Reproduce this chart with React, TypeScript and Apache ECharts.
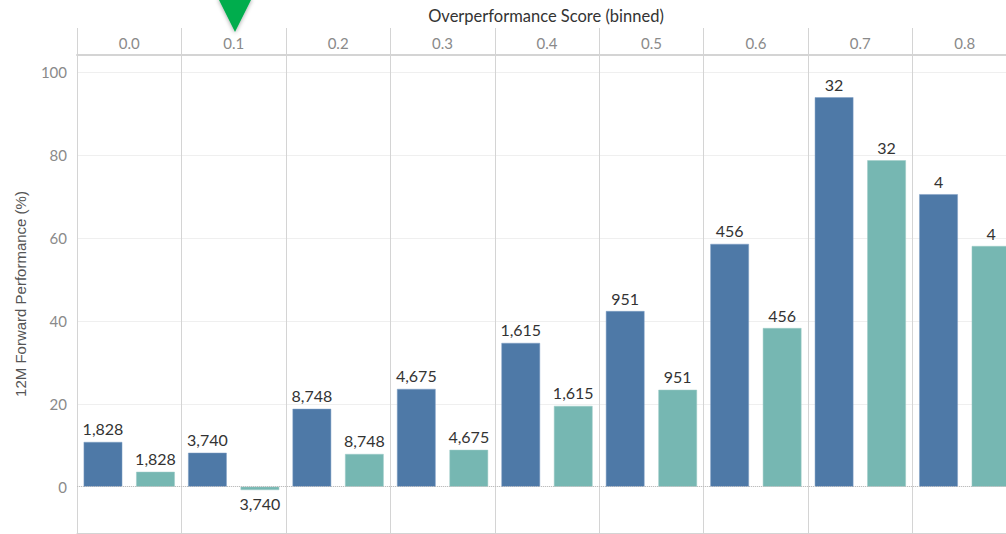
import React, { useEffect, useRef } from "react";
import * as echarts from "echarts";

const categories = ["0.0", "0.1", "0.2", "0.3", "0.4", "0.5", "0.6", "0.7", "0.8"];
const blueValues = [10.8, 8.2, 18.8, 23.6, 34.7, 42.4, 58.6, 94.0, 70.6];
const tealValues = [3.6, -0.8, 7.9, 8.9, 19.5, 23.4, 38.3, 78.8, 58.1];
const counts = [1828, 3740, 8748, 4675, 1615, 951, 456, 32, 4];
const yTicks = [0, 20, 40, 60, 80, 100];

const FONT = "Lato, sans-serif";

export default function App() {
  const ref = useRef<HTMLDivElement>(null);
  useEffect(() => {
    if (!ref.current) return;
    const chart = echarts.init(ref.current, undefined, { renderer: "svg" });
    const fmtCount = (p: any) => counts[p.dataIndex].toLocaleString("en-US");
    const mk = (vals: number[]) =>
      vals.map((v) => ({
        value: v,
        label: { position: v < 0 ? "bottom" : "top" },
      }));
    chart.setOption({
      animation: false,
      textStyle: { fontFamily: FONT },
      title: {
        text: "Overperformance Score (binned)",
        left: 546,
        top: 7,
        padding: 0,
        textAlign: "center",
        textStyle: { fontSize: 16.5, color: "#333", fontWeight: "normal", fontFamily: FONT },
      },
      graphic: [
        {
          type: "polygon",
          shape: { points: [[218, -2], [252, -2], [235, 32]] },
          style: {
            fill: "#00ad4e",
            shadowBlur: 4,
            shadowColor: "rgba(0,0,0,0.35)",
            shadowOffsetY: 1,
          },
          z: 100,
        },
      ],
      grid: [
        { left: 77, top: 55, width: 940, height: 478 },
        { left: 77, top: 28, width: 940, height: 27 },
      ],
      xAxis: [
        {
          gridIndex: 0,
          type: "category",
          data: categories,
          position: "bottom",
          axisLine: { show: true, onZero: false, lineStyle: { color: "#d4d4d4", width: 1 } },
          axisTick: { show: false },
          axisLabel: { show: false },
          splitLine: { show: true, interval: 0, lineStyle: { color: "#d4d4d4", width: 1 } },
        },
        {
          gridIndex: 1,
          type: "category",
          data: categories,
          position: "bottom",
          axisLine: { show: true, lineStyle: { color: "#d4d4d4", width: 2 } },
          axisTick: { show: false },
          axisLabel: { inside: true, color: "#8a8a8a", fontSize: 15, margin: 5, interval: 0 },
          splitLine: { show: true, interval: 0, lineStyle: { color: "#d4d4d4", width: 1 } },
        },
      ],
      yAxis: [
        {
          gridIndex: 0,
          type: "value",
          min: -11.17,
          max: 104.2,
          axisLine: { show: false },
          axisTick: { show: false, customValues: yTicks },
          axisLabel: { customValues: yTicks, color: "#8a8a8a", fontSize: 15, margin: 10 },
          splitLine: { show: true, lineStyle: { color: "#efefef", width: 1 } },
          name: "12M Forward Performance (%)",
          nameLocation: "middle",
          nameGap: 49,
          nameTextStyle: { color: "#555", fontSize: 15, fontFamily: "'Liberation Sans', Arial, sans-serif" },
        },
        { gridIndex: 1, type: "value", show: false },
      ],
      series: [
        {
          name: "Series 1",
          type: "bar",
          xAxisIndex: 0,
          yAxisIndex: 0,
          data: mk(blueValues),
          barWidth: 38.6,
          barGap: "36%",
          itemStyle: { color: "#4e79a7", borderColor: "#7f9fc4", borderWidth: 0.5 },
          label: { show: true, formatter: fmtCount, color: "#333", fontSize: 16, distance: 5 },
          markLine: {
            silent: true,
            symbol: "none",
            label: { show: false },
            lineStyle: { type: "dotted", color: "#bdbdbd", width: 1 },
            data: [{ yAxis: 0 }],
          },
        },
        {
          name: "Series 2",
          type: "bar",
          xAxisIndex: 0,
          yAxisIndex: 0,
          data: mk(tealValues),
          barWidth: 38.6,
          barGap: "36%",
          itemStyle: { color: "#76b7b2", borderColor: "#9ccbc7", borderWidth: 0.5 },
          label: { show: true, formatter: fmtCount, color: "#333", fontSize: 16, distance: 5 },
        },
      ],
    });
    return () => chart.dispose();
  }, []);
  return (
    <div style={{ position: "fixed", left: 0, top: 0, width: 1006, height: 534, overflow: "hidden", background: "#fff" }}>
      <div ref={ref} style={{ width: 1020, height: 534 }} />
    </div>
  );
}
